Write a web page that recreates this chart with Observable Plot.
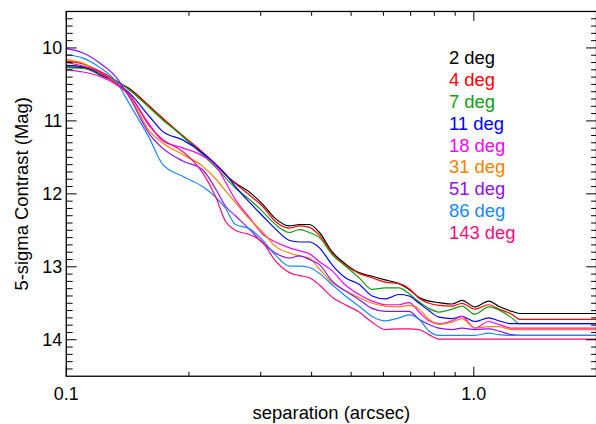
<!DOCTYPE html>
<html><head><meta charset="utf-8">
<script src="https://cdn.jsdelivr.net/npm/d3@7"></script>
<script src="https://cdn.jsdelivr.net/npm/@observablehq/plot@0.6"></script>
<style>html,body{margin:0;padding:0;background:#fff;overflow:hidden;} svg{display:block}</style>
</head><body><div id="chart"></div>
<script>
// separation (arcsec)
const separation = [0.100, 0.110, 0.121, 0.1325, 0.143, 0.160, 0.172, 0.193, 0.216, 0.233, 0.246, 0.260, 0.282, 0.303, 0.326, 0.353, 0.373, 0.395, 0.418, 0.450, 0.484, 0.523, 0.563, 0.606, 0.655, 0.694, 0.734, 0.776, 0.821, 0.884, 0.935, 1.006, 1.088, 1.151, 1.239, 1.296, 2.0];

const labels = ["2 deg", "4 deg", "7 deg", "11 deg", "18 deg", "31 deg", "51 deg", "86 deg", "143 deg"];
const colors = ["#000000", "#ff0000", "#10a010", "#0000ff", "#ff00ff", "#ff8000", "#8c10ff", "#1888ff", "#ff0a7a"];

const deg2 = [10.26, 10.27, 10.37, 10.46, 10.56, 10.80, 10.96, 11.21, 11.44, 11.60, 11.74, 11.85, 11.98, 12.14, 12.34, 12.44, 12.42, 12.42, 12.53, 12.80, 12.96, 13.08, 13.13, 13.18, 13.23, 13.31, 13.42, 13.47, 13.49, 13.51, 13.46, 13.55, 13.47, 13.54, 13.61, 13.64, 13.64];
const deg4 = [10.18, 10.22, 10.32, 10.45, 10.57, 10.80, 10.96, 11.20, 11.43, 11.60, 11.74, 11.86, 12.02, 12.17, 12.38, 12.47, 12.44, 12.46, 12.57, 12.82, 12.98, 13.09, 13.15, 13.21, 13.23, 13.30, 13.43, 13.50, 13.53, 13.54, 13.50, 13.58, 13.52, 13.58, 13.65, 13.72, 13.72];
const deg7 = [10.27, 10.28, 10.36, 10.45, 10.58, 10.82, 10.98, 11.21, 11.46, 11.64, 11.78, 11.92, 12.08, 12.24, 12.42, 12.53, 12.49, 12.53, 12.60, 12.84, 12.99, 13.15, 13.31, 13.29, 13.29, 13.37, 13.48, 13.57, 13.62, 13.58, 13.54, 13.65, 13.55, 13.59, 13.70, 13.78, 13.78];
const deg11 = [10.24, 10.26, 10.35, 10.48, 10.62, 10.94, 11.14, 11.26, 11.44, 11.60, 11.73, 11.90, 12.12, 12.30, 12.48, 12.64, 12.66, 12.66, 12.74, 12.98, 13.15, 13.24, 13.40, 13.44, 13.38, 13.40, 13.50, 13.60, 13.69, 13.71, 13.68, 13.75, 13.70, 13.74, 13.78, 13.78, 13.78];
const deg18 = [10.30, 10.33, 10.39, 10.50, 10.65, 11.05, 11.27, 11.37, 11.48, 11.62, 11.84, 12.08, 12.33, 12.55, 12.66, 12.74, 12.78, 12.82, 12.93, 13.06, 13.25, 13.38, 13.47, 13.52, 13.52, 13.49, 13.62, 13.74, 13.78, 13.74, 13.68, 13.84, 13.75, 13.79, 13.84, 13.84, 13.84];
const deg31 = [10.16, 10.21, 10.34, 10.48, 10.66, 11.14, 11.30, 11.46, 11.62, 11.80, 11.96, 12.12, 12.35, 12.52, 12.72, 12.81, 12.85, 12.88, 13.03, 13.22, 13.33, 13.42, 13.50, 13.54, 13.55, 13.53, 13.58, 13.72, 13.79, 13.76, 13.71, 13.84, 13.82, 13.82, 13.86, 13.86, 13.86];
const deg51 = [10.01, 10.07, 10.21, 10.40, 10.68, 11.18, 11.37, 11.55, 11.67, 11.94, 12.17, 12.30, 12.49, 12.67, 12.81, 12.88, 12.85, 12.90, 12.97, 13.20, 13.33, 13.45, 13.57, 13.61, 13.61, 13.61, 13.72, 13.79, 13.84, 13.86, 13.84, 13.86, 13.85, 13.88, 13.93, 13.94, 13.94];
const deg86 = [10.09, 10.14, 10.27, 10.46, 10.77, 11.24, 11.59, 11.76, 11.90, 12.05, 12.20, 12.42, 12.48, 12.63, 12.84, 12.99, 12.99, 13.01, 13.09, 13.25, 13.40, 13.54, 13.68, 13.74, 13.70, 13.66, 13.72, 13.88, 13.94, 13.94, 13.94, 13.94, 13.91, 13.93, 13.94, 13.94, 13.94];
const deg143 = [10.20, 10.25, 10.33, 10.49, 10.64, 11.07, 11.25, 11.42, 11.71, 12.05, 12.38, 12.50, 12.56, 12.66, 12.92, 13.08, 13.12, 13.15, 13.25, 13.42, 13.52, 13.62, 13.76, 13.86, 13.85, 13.85, 13.86, 13.93, 13.99, 13.99, 13.99, 13.99, 13.99, 13.99, 13.99, 13.99, 13.99];

const yMajorTicks = [10, 11, 12, 13, 14];
const yMinorTicks = d3.range(96, 145).filter(v => v % 10 !== 0).map(v => v / 10);
const xMajorTicks = [0.1, 1.0];
const xTickLabels = ["0.1", "1.0"];
const xMinorTicks = [0.2, 0.3, 0.4, 0.5, 0.6, 0.7, 0.8, 0.9, 2.0];

const seriesValues = [deg2, deg4, deg7, deg11, deg18, deg31, deg51, deg86, deg143];
const data = labels.flatMap((lab, k) => separation.map((s, i) => ({label: lab, sep: s, mag: seriesValues[k][i]})));

const font = "'Liberation Sans', Arial, Helvetica, sans-serif";
// plain straight tick shape (no arrow head)
const tickShape = {draw(context, l) { context.moveTo(0, 0); context.lineTo(0, -l); }};
const tickStyle = {stroke: "black", strokeWidth: 1, anchor: "start", shape: tickShape};

const chart = Plot.plot({
  width: 598, height: 424,
  marginLeft: 66, marginRight: 0, marginTop: 11, marginBottom: 47,
  style: {fontFamily: font, background: "white", overflow: "visible", color: "black"},
  x: {type: "log", domain: [0.1, 2.0], axis: null},
  y: {domain: [9.5, 14.5], reverse: true, axis: null},
  color: {domain: labels, range: colors},
  marks: [
    Plot.line(data, {x: "sep", y: "mag", z: "label", stroke: "label", strokeWidth: 1.2, curve: "monotone-x"}),
    // y ticks, left and right, pointing inward
    Plot.vector(yMajorTicks, {y: d => d, frameAnchor: "left", rotate: 90, length: 10, ...tickStyle}),
    Plot.vector(yMinorTicks, {y: d => d, frameAnchor: "left", rotate: 90, length: 6, ...tickStyle}),
    Plot.vector(yMajorTicks, {y: d => d, frameAnchor: "right", rotate: -90, length: 10, ...tickStyle}),
    Plot.vector(yMinorTicks, {y: d => d, frameAnchor: "right", rotate: -90, length: 5, ...tickStyle}),
    // x ticks, bottom and top
    Plot.vector(xMajorTicks, {x: d => d, frameAnchor: "bottom", rotate: 0, length: 9, ...tickStyle}),
    Plot.vector(xMinorTicks, {x: d => d, frameAnchor: "bottom", rotate: 0, length: 4, ...tickStyle}),
    Plot.vector(xMajorTicks, {x: d => d, frameAnchor: "top", rotate: 180, length: 9, ...tickStyle}),
    Plot.vector(xMinorTicks, {x: d => d, frameAnchor: "top", rotate: 180, length: 4, ...tickStyle}),
    Plot.frame({stroke: "black", strokeWidth: 1.3}),
    // tick labels
    Plot.text(yMajorTicks, {y: d => d, text: d => `${d}`, frameAnchor: "left", textAnchor: "end", lineAnchor: "middle", dx: -4, fontSize: 18, fill: "black"}),
    Plot.text(xMajorTicks, {x: d => d, text: (d, i) => xTickLabels[i], frameAnchor: "bottom", textAnchor: "middle", lineAnchor: "middle", dy: 18, fontSize: 18, fill: "black"}),
    // axis titles
    Plot.text(["separation (arcsec)"], {text: d => d, frameAnchor: "bottom", textAnchor: "middle", lineAnchor: "middle", dy: 37, fontSize: 18.5, fill: "black"}),
    Plot.text(["5-sigma Contrast (Mag)"], {text: d => d, frameAnchor: "left", textAnchor: "middle", lineAnchor: "middle", dx: -44, rotate: -90, fontSize: 18.5, fill: "black"}),
    // legend
    Plot.text(labels, {text: d => d, y: (d, i) => 10.14 + 0.30 * i, frameAnchor: "left", dx: 384, textAnchor: "start", lineAnchor: "middle", fill: d => d, fontSize: 18.5})
  ]
});
document.getElementById("chart").appendChild(chart);
</script>
</body></html>
